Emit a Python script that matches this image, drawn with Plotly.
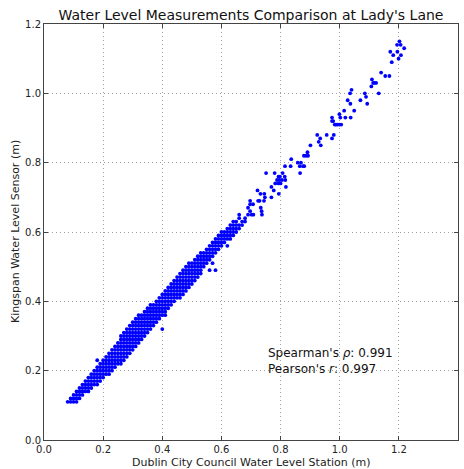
import plotly.graph_objects as go

# Dense band: sensor level rows (m) and the station readings (m) seen on each row
row_levels = [0.11, 0.12, 0.13, 0.14, 0.15, 0.16, 0.17, 0.18, 0.19, 0.20,
              0.21, 0.22, 0.23, 0.24, 0.25, 0.26, 0.27, 0.28, 0.29, 0.30,
              0.31, 0.32, 0.33, 0.34, 0.35, 0.36, 0.37, 0.38, 0.39, 0.40,
              0.41, 0.42, 0.43, 0.44, 0.45, 0.46, 0.47, 0.48, 0.49, 0.50,
              0.51, 0.52, 0.53, 0.54, 0.55, 0.56, 0.57, 0.58, 0.59, 0.60,
              0.61, 0.62, 0.63, 0.64, 0.65]
row_station_values = [
    [0.08, 0.09, 0.10, 0.11],
    [0.09, 0.10, 0.11, 0.12],
    [0.10, 0.11, 0.12, 0.13],
    [0.11, 0.12, 0.13, 0.14, 0.15],
    [0.12, 0.13, 0.14, 0.15, 0.16],
    [0.13, 0.14, 0.15, 0.16, 0.17, 0.18],
    [0.14, 0.15, 0.16, 0.17, 0.18, 0.19],
    [0.15, 0.16, 0.17, 0.18, 0.19, 0.20],
    [0.16, 0.17, 0.18, 0.19, 0.20, 0.21, 0.22],
    [0.17, 0.18, 0.19, 0.20, 0.21, 0.22, 0.23],
    [0.18, 0.19, 0.20, 0.21, 0.22, 0.23, 0.24],
    [0.19, 0.20, 0.21, 0.22, 0.23, 0.24, 0.25, 0.26],
    [0.18, 0.20, 0.21, 0.22, 0.23, 0.24, 0.25, 0.26, 0.27],
    [0.21, 0.22, 0.23, 0.24, 0.25, 0.26, 0.27, 0.28],
    [0.22, 0.23, 0.24, 0.25, 0.26, 0.27, 0.28, 0.29],
    [0.23, 0.24, 0.25, 0.26, 0.27, 0.28, 0.29, 0.30],
    [0.24, 0.25, 0.26, 0.27, 0.28, 0.29, 0.30, 0.31],
    [0.25, 0.26, 0.27, 0.28, 0.29, 0.30, 0.31, 0.32],
    [0.26, 0.27, 0.28, 0.29, 0.30, 0.31, 0.32, 0.33],
    [0.26, 0.27, 0.28, 0.29, 0.30, 0.31, 0.32, 0.33, 0.34],
    [0.27, 0.28, 0.29, 0.30, 0.31, 0.32, 0.33, 0.34, 0.35],
    [0.28, 0.29, 0.30, 0.31, 0.32, 0.33, 0.34, 0.35, 0.36, 0.40],
    [0.29, 0.30, 0.31, 0.32, 0.33, 0.34, 0.35, 0.36, 0.37],
    [0.30, 0.31, 0.32, 0.33, 0.34, 0.35, 0.36, 0.37, 0.38],
    [0.31, 0.32, 0.33, 0.34, 0.35, 0.36, 0.37, 0.38, 0.39],
    [0.32, 0.33, 0.34, 0.35, 0.36, 0.37, 0.38, 0.39, 0.40, 0.41],
    [0.34, 0.35, 0.36, 0.37, 0.38, 0.39, 0.40, 0.41],
    [0.35, 0.36, 0.37, 0.38, 0.39, 0.40, 0.41, 0.42],
    [0.36, 0.37, 0.38, 0.39, 0.40, 0.41, 0.42, 0.43],
    [0.38, 0.39, 0.40, 0.41, 0.42, 0.43, 0.44],
    [0.39, 0.40, 0.41, 0.42, 0.43, 0.44, 0.45, 0.46],
    [0.40, 0.41, 0.42, 0.43, 0.44, 0.45, 0.46, 0.47],
    [0.41, 0.42, 0.43, 0.44, 0.45, 0.46, 0.47, 0.48],
    [0.42, 0.43, 0.44, 0.45, 0.46, 0.47, 0.48, 0.49],
    [0.43, 0.44, 0.45, 0.46, 0.47, 0.48, 0.49, 0.50],
    [0.44, 0.45, 0.46, 0.47, 0.48, 0.49, 0.50, 0.51],
    [0.45, 0.46, 0.47, 0.48, 0.49, 0.50, 0.51, 0.52],
    [0.46, 0.47, 0.48, 0.49, 0.50, 0.51, 0.52, 0.53],
    [0.47, 0.48, 0.49, 0.50, 0.51, 0.52, 0.53, 0.56, 0.58],
    [0.48, 0.49, 0.50, 0.51, 0.52, 0.53, 0.54],
    [0.49, 0.50, 0.51, 0.52, 0.53, 0.54, 0.55, 0.57],
    [0.51, 0.52, 0.53, 0.54, 0.55, 0.56],
    [0.52, 0.53, 0.54, 0.55, 0.56, 0.57],
    [0.53, 0.54, 0.55, 0.56, 0.57, 0.58],
    [0.55, 0.56, 0.57, 0.58, 0.59],
    [0.56, 0.57, 0.58, 0.59, 0.60, 0.62],
    [0.57, 0.58, 0.59, 0.60, 0.61],
    [0.58, 0.59, 0.60, 0.61, 0.62, 0.63],
    [0.59, 0.60, 0.61, 0.62, 0.63, 0.64],
    [0.60, 0.61, 0.62, 0.63, 0.64, 0.65],
    [0.62, 0.63, 0.64, 0.65, 0.66],
    [0.63, 0.64, 0.65, 0.66, 0.67],
    [0.64, 0.65, 0.67, 0.68],
    [0.66, 0.68],
    [0.66, 0.69],
]

# Sparse upper readings (station m, sensor m)
sparse_station = [0.702, 0.708, 0.737, 0.697, 0.736, 0.690, 0.733, 0.697, 0.707,
                  0.697, 0.724, 0.729, 0.744, 0.747, 0.769, 0.732, 0.745, 0.794,
                  0.722, 0.777, 0.769, 0.818, 0.782, 0.793, 0.800, 0.788, 0.796,
                  0.805, 0.816, 0.793, 0.798, 0.814, 0.751, 0.780, 0.807, 0.866,
                  0.815, 0.834, 0.865, 0.876, 0.880, 0.858, 0.869, 0.836, 0.879,
                  0.886, 0.893, 0.891, 0.901, 0.936, 0.929, 0.934, 0.974, 0.924,
                  0.956, 0.980, 0.983, 0.987, 0.992, 0.999, 1.005, 0.974, 0.978,
                  0.974, 1.002, 1.019, 1.037, 0.999, 1.015, 1.049, 1.036, 1.093,
                  1.027, 1.070, 1.089, 1.035, 1.085, 1.132, 1.040, 1.107, 1.113,
                  1.117, 1.123, 1.109, 1.154, 1.168, 1.140, 1.176, 1.199, 1.181,
                  1.207, 1.171, 1.195, 1.218, 1.194, 1.206, 1.202]
sparse_sensor = [0.65, 0.65, 0.65, 0.66, 0.66, 0.67, 0.67, 0.68, 0.68,
                 0.69, 0.69, 0.69, 0.69, 0.70, 0.70, 0.71, 0.71, 0.71,
                 0.72, 0.72, 0.73, 0.73, 0.74, 0.74, 0.74, 0.75, 0.75,
                 0.75, 0.75, 0.76, 0.76, 0.76, 0.77, 0.77, 0.77, 0.77,
                 0.79, 0.79, 0.79, 0.79, 0.79, 0.80, 0.80, 0.81, 0.82,
                 0.82, 0.82, 0.83, 0.85, 0.85, 0.86, 0.87, 0.87, 0.88,
                 0.88, 0.88, 0.91, 0.91, 0.91, 0.91, 0.91, 0.92, 0.92,
                 0.93, 0.93, 0.93, 0.93, 0.94, 0.95, 0.95, 0.97, 0.97,
                 0.98, 0.98, 0.99, 1.00, 1.00, 1.00, 1.01, 1.02, 1.03,
                 1.03, 1.03, 1.04, 1.05, 1.05, 1.06, 1.09, 1.10, 1.11,
                 1.11, 1.12, 1.12, 1.13, 1.14, 1.14, 1.15]

x_ticks = [0.0, 0.2, 0.4, 0.6, 0.8, 1.0, 1.2, 1.4]
y_ticks = [0.0, 0.2, 0.4, 0.6, 0.8, 1.0, 1.2]
spearman_rho = 0.991
pearson_r = 0.997

station = []
sensor = []
for lvl, xs in zip(row_levels, row_station_values):
    for xv in xs:
        station.append(xv)
        sensor.append(lvl)
station += sparse_station
sensor += sparse_sensor

FONT = "DejaVu Sans"
W, H = 464, 469
L, R, T, B = 44, 6, 24, 29
PW, PH = W - L - R, H - T - B

fig = go.Figure()
fig.add_trace(go.Scatter(
    x=station, y=sensor, mode="markers",
    marker=dict(color="#0000ff", size=3.8, line=dict(width=0)),
    showlegend=False,
))

axis_common = dict(
    showline=True, linecolor="#444444", linewidth=1, mirror="ticks",
    ticks="inside", ticklen=4, tickcolor="#444444",
    showgrid=True, gridcolor="#a0a0a0", griddash="1px,3px", gridwidth=1,
    zeroline=False, automargin=False,
    tickfont=dict(family=FONT, size=10, color="#222222"),
)

fig.update_layout(
    width=W, height=H,
    margin=dict(l=L, r=R, t=T, b=B, pad=0, autoexpand=False),
    paper_bgcolor="white", plot_bgcolor="white",
    title=dict(text="Water Level Measurements Comparison at Lady's Lane",
               x=(L + PW / 2) / W, xref="container", xanchor="center",
               y=1 - 15 / H, yref="container", yanchor="middle",
               font=dict(family=FONT, size=14, color="#111111"),
               automargin=False),
    xaxis=dict(range=[0, 1.4], tickvals=x_ticks,
               ticktext=[f"{v:.1f}" for v in x_ticks], **axis_common),
    yaxis=dict(range=[0, 1.2], tickvals=y_ticks,
               ticktext=[f"{v:.1f}" for v in y_ticks], **axis_common),
    annotations=[
        dict(x=0.75, y=0.229, xref="x", yref="y", xanchor="left", yanchor="middle",
             align="left", showarrow=False,
             text=f"Spearman's <i>ρ</i>: {spearman_rho}<br>Pearson's <i>r</i>: {pearson_r}",
             font=dict(family=FONT, size=12, color="#111111")),
        dict(x=0.5, y=-(462.5 - (T + PH)) / PH, xref="paper", yref="paper",
             xanchor="center", yanchor="middle", showarrow=False,
             text="Dublin City Council Water Level Station (m)",
             font=dict(family=FONT, size=11, color="#222222")),
        dict(x=-(L - 15) / PW, y=0.5, xref="paper", yref="paper",
             xanchor="center", yanchor="middle", showarrow=False, textangle=-90,
             text="Kingspan Water Level Sensor (m)",
             font=dict(family=FONT, size=11, color="#222222")),
    ],
)

fig.write_html("out.html", config={"displayModeBar": False},
               post_script="document.body.style.margin='0';document.body.style.overflow='hidden';")
